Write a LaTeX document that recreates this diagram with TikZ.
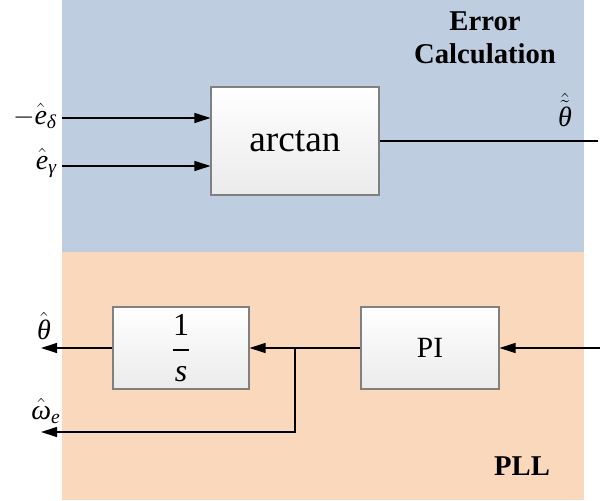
\documentclass[tikz,border=0pt]{standalone}
\usepackage{amsmath}
\usepackage{fontspec}
\setmainfont{Liberation Serif}
\usetikzlibrary{arrows.meta}
\definecolor{errbg}{RGB}{190,206,224}
\definecolor{pllbg}{RGB}{250,216,188}
\definecolor{boxedge}{RGB}{128,128,128}
% italic letter taken from the text font, usable inside math
\newcommand{\vi}[1]{\text{\itshape #1}}
\tikzset{
  blk/.style={draw=boxedge, line width=0.8pt, top color=white, bottom color=black!8,
              inner sep=0pt, align=center},
  sig/.style={line width=0.9pt},
  arr/.style={sig, -{Triangle[length=12pt,width=7.5pt]}},
  lbl/.style={inner sep=0pt, font=\fontsize{21}{24}\selectfont},
  title/.style={inner sep=0pt, align=center, font=\fontsize{21.5}{25}\selectfont\bfseries}
}
\begin{document}
\begin{tikzpicture}[x=0.75pt,y=-0.75pt]
  \useasboundingbox (0,0) rectangle (600,500);
  % background zones
  \fill[errbg] (62,0) rectangle (584,252);
  \fill[pllbg] (62,252) rectangle (584,500);
  \node[title] (errt) at (485,38) {Error\\Calculation};
  \node[title] (pllt) at (522,466) {PLL};

  % error calculation
  \node[blk, minimum width=126pt, minimum height=81pt,
        font=\fontsize{28}{32}\selectfont] (atan) at (295,141) {arctan};
  \coordinate (e1) at (62,118);
  \coordinate (e2) at (62,166);
  \coordinate (thr) at (598,141);
  \draw[arr] (e1) -- (e1 -| atan.west);
  \draw[arr] (e2) -- (e2 -| atan.west);
  \draw[sig] (atan.east) -- (thr);
  \node[lbl, anchor=east] (le1) at (57,116) {$-\hat{\vi{e}}_{\vi{δ}}$};
  \node[lbl, anchor=east] (le2) at (57,163) {$\hat{\vi{e}}_{\vi{γ}}$};
  \node[lbl] (lth) at (565,110) {$\hat{\tilde{\vi{θ}}}$};

  % PLL
  \node[blk, minimum width=102pt, minimum height=61.5pt,
        font=\fontsize{24}{28}\selectfont] (integ) at (181,348) {$\dfrac{\text{1}}{\vi{s}}$};
  \node[blk, minimum width=103.5pt, minimum height=61.5pt,
        font=\fontsize{22}{26}\selectfont] (pi) at (430,348) {PI};
  \coordinate (pin) at (600,348);
  \coordinate (jn) at (295,348);
  \coordinate (thout) at (41,348);
  \coordinate (wout) at (41,432);
  \draw[arr] (pin) -- (pi.east);
  \draw[arr] (pi.west) -- (integ.east);
  \draw[arr] (integ.west) -- (thout);
  \draw[arr] (jn) |- (wout);
  \node[lbl] (lthh) at (44,326) {$\hat{\vi{θ}}$};
  \node[lbl] (lw) at (46,411) {$\hat{\vi{ω}}_{\vi{e}}$};
\end{tikzpicture}
\end{document}
